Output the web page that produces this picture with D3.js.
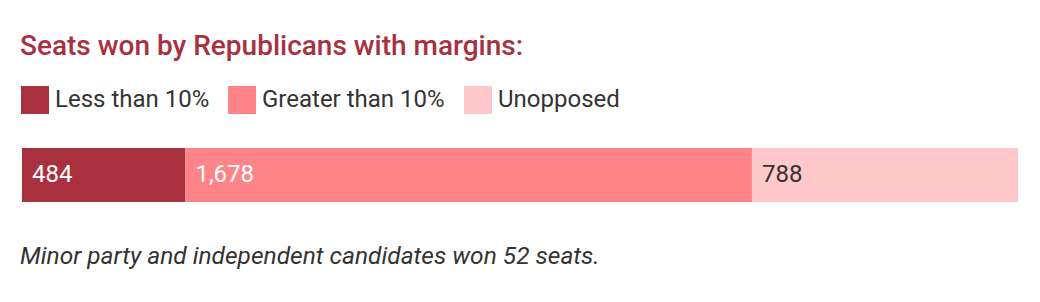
<!DOCTYPE html>
<html>
<head>
<meta charset="utf-8">
<script src="https://cdn.jsdelivr.net/npm/d3@7"></script>
<style>
  body { margin: 0; background: #fff; }
  text { font-family: Roboto, "Noto Sans", sans-serif; }
</style>
</head>
<body>
<div id="chart"></div>
<script>
// data
var categories = ["Less than 10%", "Greater than 10%", "Unopposed"];
var seats = [484, 1678, 788];
var colors = ["#a8303f", "#ff8487", "#ffc8ca"];
var labelColors = ["#fff", "#fff", "#333"];
var title = "Seats won by Republicans with margins:";
var note = "Minor party and independent candidates won 52 seats.";

var width = 1040, height = 302;
var barLeft = 22, barRight = 1018, barTop = 148, barHeight = 54;

var svg = d3.select("#chart").append("svg")
    .attr("width", width)
    .attr("height", height);

svg.append("text")
    .attr("x", 20)
    .attr("y", 55)
    .style("font-size", "28px")
    .style("font-weight", 500)
    .style("fill", "#a8303f")
    .text(title);

// legend
var legendX = [21, 228, 464];
var legend = svg.selectAll(".legend")
    .data(categories)
    .enter()
    .append("g")
        .attr("class", "legend")
        .attr("transform", function(d, i) { return "translate(" + legendX[i] + ",86)"; });

legend.append("rect")
    .attr("width", 28)
    .attr("height", 28)
    .style("fill", function(d, i) { return colors[i]; });

legend.append("text")
    .attr("x", 34)
    .attr("y", 21)
    .style("font-size", "24px")
    .style("fill", "#333")
    .text(function(d) { return d; });

// stacked bar
var total = d3.sum(seats);
var starts = [];
seats.reduce(function(acc, v) { starts.push(acc); return acc + v; }, 0);

var xScale = d3.scaleLinear()
    .domain([0, total])
    .range([barLeft, barRight]);

var fmt = d3.format(",");

svg.selectAll(".seg")
    .data(seats)
    .enter()
    .append("rect")
        .attr("class", "seg")
        .attr("x", function(d, i) { return xScale(starts[i]); })
        .attr("y", barTop)
        .attr("width", function(d, i) { return xScale(starts[i] + d) - xScale(starts[i]); })
        .attr("height", barHeight)
        .style("fill", function(d, i) { return colors[i]; });

svg.selectAll(".segLabel")
    .data(seats)
    .enter()
    .append("text")
        .attr("class", "segLabel")
        .attr("x", function(d, i) { return xScale(starts[i]) + 10; })
        .attr("y", barTop + 34)
        .style("font-size", "24px")
        .style("fill", function(d, i) { return labelColors[i]; })
        .text(function(d) { return fmt(d); });

svg.append("text")
    .attr("x", 20)
    .attr("y", 264)
    .style("font-size", "24.5px")
    .style("font-style", "italic")
    .style("fill", "#333")
    .text(note);
</script>
</body>
</html>
